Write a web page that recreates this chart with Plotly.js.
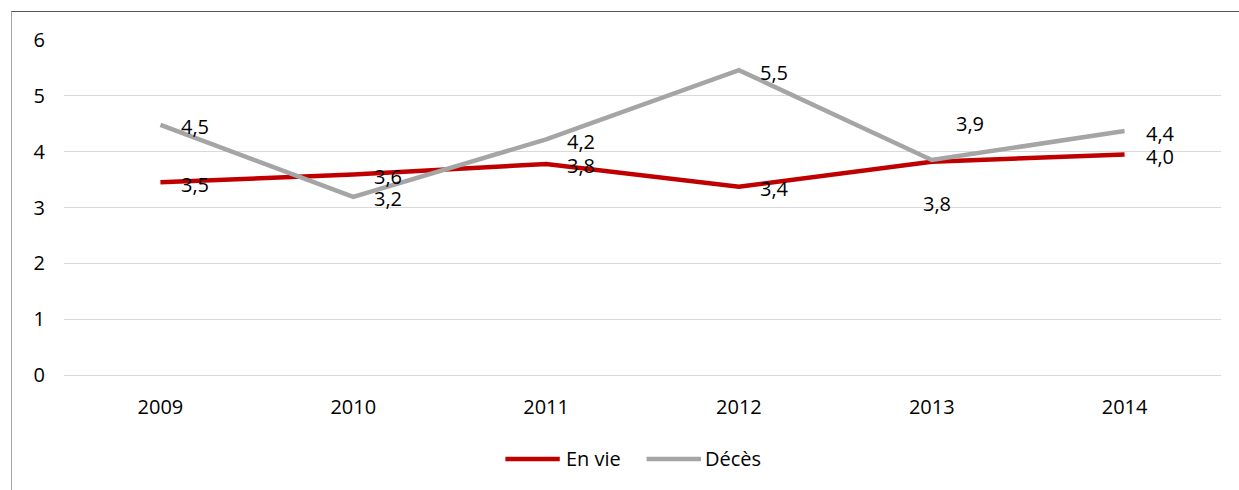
<!DOCTYPE html>
<html>
<head>
<meta charset="utf-8">
<script src="https://cdn.plot.ly/plotly-3.0.1.min.js"></script>
<style>
  html, body { margin: 0; padding: 0; background: #fff; overflow: hidden; }
  #frame { position: absolute; left: 11px; top: 11px; width: 1400px; height: 600px;
           border-top: 1px solid #595959; border-left: 1px solid #a6a6a6; }
  #chart { position: absolute; left: 0; top: 0; width: 1239px; height: 490px; }
</style>
</head>
<body>
<div id="frame"></div>
<div id="chart"></div>
<script>
const years = ['2009', '2010', '2011', '2012', '2013', '2014'];
const enVie = [3.45, 3.59, 3.78, 3.37, 3.82, 3.95];
const deces = [4.48, 3.19, 4.22, 5.46, 3.85, 4.37];
const enVieLabels = ['3,5', '3,6', '3,8', '3,4', '3,8', '4,0'];
const decesLabels = ['4,5', '3,2', '4,2', '5,5', '3,9', '4,4'];
const seriesNames = ['En vie', 'Décès'];

const FONT = 'Open Sans, Noto Sans, sans-serif';
const FS = 20;
const colors = ['#C00000', '#A5A5A5'];

const traces = [
  { x: years, y: enVie, name: seriesNames[0], type: 'scatter', mode: 'lines',
    line: { color: colors[0], width: 4.5 }, hoverinfo: 'skip', showlegend: false },
  { x: years, y: deces, name: seriesNames[1], type: 'scatter', mode: 'lines',
    line: { color: colors[1], width: 4.5 }, hoverinfo: 'skip', showlegend: false }
];

// label placement (style only): default to the right of the point
function placement(series, i) {
  if (years[i] === '2013') {
    if (series === 0) return { xshift: 5, yshift: -42, xanchor: 'center' };
    return { xshift: 38, yshift: 37, xanchor: 'center' };
  }
  return { xshift: 19, yshift: -2, xanchor: 'left' };
}

const annotations = [];
[[enVie, enVieLabels], [deces, decesLabels]].forEach(([vals, labs], s) => {
  vals.forEach((v, i) => {
    const p = placement(s, i);
    annotations.push({
      x: i, y: v, xref: 'x', yref: 'y', text: labs[i], showarrow: false,
      xanchor: p.xanchor, yanchor: 'middle', xshift: p.xshift, yshift: p.yshift,
      font: { family: FONT, size: FS, color: '#000' }
    });
  });
});

// manual legend (library legend symbol is too short)
const shapes = [];
const legendItems = [
  { name: seriesNames[0], color: colors[0], x0: 0.3815, x1: 0.4285, tx: 0.4325 },
  { name: seriesNames[1], color: colors[1], x0: 0.5035, x1: 0.5505, tx: 0.5525 }
];
const legY = -0.2507;
legendItems.forEach(it => {
  shapes.push({ type: 'line', xref: 'paper', yref: 'paper', x0: it.x0, x1: it.x1, y0: legY, y1: legY,
                line: { color: it.color, width: 4.5 }, layer: 'above' });
  annotations.push({ xref: 'paper', yref: 'paper', x: it.tx, y: legY, text: it.name, showarrow: false,
                     xanchor: 'left', yanchor: 'middle', font: { family: FONT, size: FS, color: '#000' } });
});

const layout = {
  width: 1239, height: 490,
  margin: { l: 64, r: 18, t: 40, b: 115 },
  paper_bgcolor: 'rgba(0,0,0,0)', plot_bgcolor: 'rgba(0,0,0,0)',
  font: { family: FONT, size: FS, color: '#000' },
  showlegend: false,
  xaxis: { type: 'category', range: [-0.5, 5.5], showgrid: false, zeroline: false, showline: false,
           ticks: 'outside', ticklen: 14, tickcolor: 'rgba(0,0,0,0)',
           tickfont: { family: FONT, size: FS, color: '#000' } },
  yaxis: { range: [0, 6], dtick: 1, showgrid: true, gridcolor: '#D9D9D9', gridwidth: 1,
           zeroline: true, zerolinecolor: '#D9D9D9', zerolinewidth: 1, showline: false,
           ticks: 'outside', ticklen: 14, tickcolor: 'rgba(0,0,0,0)',
           tickfont: { family: FONT, size: FS, color: '#000' } },
  shapes: shapes,
  annotations: annotations
};

Plotly.newPlot('chart', traces, layout, { displayModeBar: false, staticPlot: true });
</script>
</body>
</html>
